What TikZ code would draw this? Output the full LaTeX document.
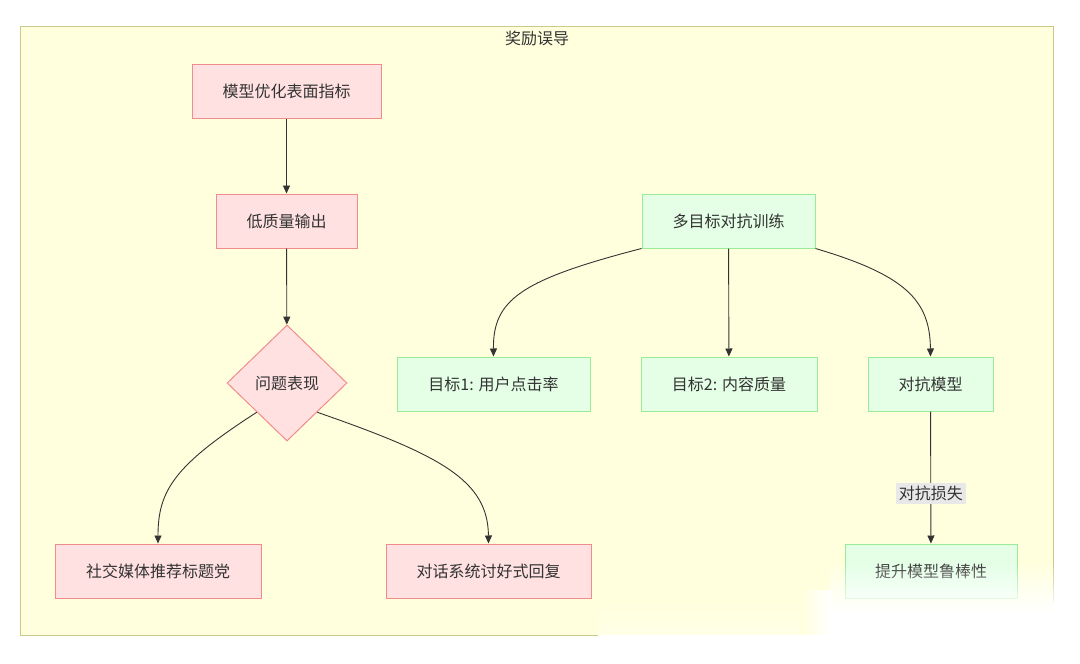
\documentclass[tikz,border=0pt]{standalone}
\usepackage{fontspec}
\setmainfont{Noto Sans CJK SC}
\usetikzlibrary{shapes.geometric,arrows.meta,fadings}
\definecolor{frameFill}{HTML}{FFFFDE}
\definecolor{frameLine}{HTML}{C9C98A}
\definecolor{pinkFill}{HTML}{FFE1E1}
\definecolor{pinkLine}{HTML}{F08C8C}
\definecolor{greenFill}{HTML}{E4FFE6}
\definecolor{greenLine}{HTML}{98EC98}
\definecolor{txt}{HTML}{333333}
\definecolor{lblFill}{HTML}{E8E8E8}
\tikzfading[name=fadedown, top color=transparent!100, bottom color=transparent!0]
\tikzfading[name=faderight, left color=transparent!100, right color=transparent!0]
\begin{document}
\begin{tikzpicture}[x=1pt,y=-1pt,
  base/.style={line width=1pt, inner sep=0pt, text=txt, font=\fontsize{16}{16}\selectfont},
  pinkbox/.style={base, draw=pinkLine, fill=pinkFill, minimum height=54pt},
  greenbox/.style={base, draw=greenLine, fill=greenFill, minimum height=54pt},
  pinkdia/.style={base, diamond, draw=pinkLine, fill=pinkFill, minimum width=120pt, minimum height=116pt},
  conn/.style={draw=txt, line width=0.9pt, -{Triangle[length=8pt,width=7pt]}},
  lbl/.style={fill=lblFill, text=txt, inner sep=3pt, font=\fontsize{16}{16}\selectfont}]
\useasboundingbox (0,0) rectangle (1080,664);
\fill[white] (0,0) rectangle (1080,664);
% frame
\fill[frameFill] (20,26) rectangle (1053,635);
\draw[frameLine, line width=1pt] (598,635) -- (20,635) -- (20,26) -- (1053,26) -- (1053,602);
\node[base] (title) at (537,38) {奖励误导};
% left nodes
\node[pinkbox, minimum width=189pt] (A) at (286.5,91) {模型优化表面指标};
\node[pinkbox, minimum width=141pt] (B) at (286.5,221) {低质量输出};
\node[pinkdia] (C) at (287,383) {问题表现};
\node[pinkbox, minimum width=206pt] (D) at (158,571) {社交媒体推荐标题党};
\node[pinkbox, minimum width=205pt] (E) at (488.5,571) {对话系统讨好式回复};
% right nodes
\node[greenbox, minimum width=173pt] (F) at (728.5,221) {多目标对抗训练};
\node[greenbox, minimum width=193pt] (G) at (493.5,384) {目标1: 用户点击率};
\node[greenbox, minimum width=176pt] (H) at (729,384) {目标2: 内容质量};
\node[greenbox, minimum width=125pt] (I) at (930.5,384) {对抗模型};
\node[greenbox, minimum width=172pt] (J) at (931,571) {提升模型鲁棒性};
% connectors
\draw[conn] (A) -- (B);
\draw[conn] (B) -- (C);
\draw[conn] (C.south west) .. controls (175,465) and (158,490) .. (D.north);
\draw[conn] (C.south east) .. controls (440,455) and (488,480) .. (E.north);
\draw[conn] (F.south west) .. controls (520,280) and (493,300) .. (G.north);
\draw[conn] (F) -- (H);
\draw[conn] (F.south east) .. controls (905,275) and (930,300) .. (I.north);
\draw[conn] (I) -- node[lbl, pos=0.62] (L) {对抗损失} (J);
% white fade at lower right
\fill[white, path fading=fadedown] (830,562) rectangle (1080,612);
\fill[white] (830,611) rectangle (1080,664);
\fill[white, path fading=faderight] (800,590) rectangle (831,664);
\fill[white, opacity=0.5, path fading=fadedown] (598,600) rectangle (800,664);
\fill[white, path fading=faderight] (570,636) rectangle (640,664);
\fill[white] (639,636) rectangle (800,664);
\end{tikzpicture}
\end{document}
